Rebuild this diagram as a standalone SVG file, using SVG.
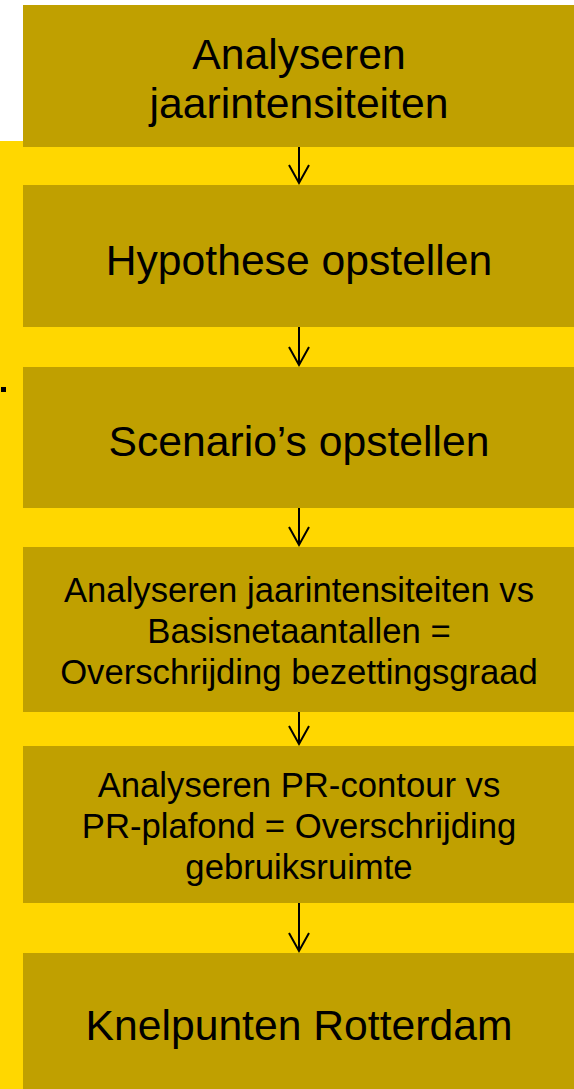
<svg xmlns="http://www.w3.org/2000/svg" width="574" height="1089" viewBox="0 0 574 1089">
<defs>
<style>
.box{fill:#C0A000}
.t{font-family:"Liberation Sans",Arial,sans-serif;fill:#000;text-anchor:middle}
.big{font-size:42.67px}
.small{font-size:34.67px}
.arr{stroke:#000;stroke-width:2;fill:none}
</style>
<marker id="ah" viewBox="0 0 20 20" refX="10" refY="18" markerWidth="20" markerHeight="20" markerUnits="userSpaceOnUse" orient="auto-start-reverse">
<path d="M0,0 L10,18 L20,0" fill="none" stroke="#000" stroke-width="2"/>
</marker>
</defs>
<rect x="0" y="0" width="574" height="1089" fill="#fff"/>
<rect x="0" y="141" width="574" height="948" fill="#FFD700"/>
<rect x="1" y="387" width="5" height="5" fill="#000"/>
<g id="connectors">
<line class="arr" x1="299" y1="147" x2="299" y2="183"/>
<path class="arr" d="M289,165 L299,183 L309,165"/>
<line class="arr" x1="299" y1="327" x2="299" y2="365"/>
<path class="arr" d="M289,347 L299,365 L309,347"/>
<line class="arr" x1="299" y1="508" x2="299" y2="545"/>
<path class="arr" d="M289,527 L299,545 L309,527"/>
<line class="arr" x1="299" y1="712" x2="299" y2="744"/>
<path class="arr" d="M289,726 L299,744 L309,726"/>
<line class="arr" x1="299" y1="903" x2="299" y2="951"/>
<path class="arr" d="M289,933 L299,951 L309,933"/>
</g>
<g id="n1"><rect class="box" x="23" y="5" width="551" height="142"/>
<text class="t big" x="299" y="69">Analyseren</text>
<text class="t big" x="299" y="118">jaarintensiteiten</text></g>
<g id="n2"><rect class="box" x="23" y="185" width="551" height="142"/>
<text class="t big" x="299" y="275">Hypothese opstellen</text></g>
<g id="n3"><rect class="box" x="23" y="367" width="551" height="141"/>
<text class="t big" x="299" y="456">Scenario’s opstellen</text></g>
<g id="n4"><rect class="box" x="23" y="547" width="551" height="165"/>
<text class="t small" x="299" y="602">Analyseren jaarintensiteiten vs</text>
<text class="t small" x="299" y="643">Basisnetaantallen =</text>
<text class="t small" x="299" y="684">Overschrijding bezettingsgraad</text></g>
<g id="n5"><rect class="box" x="23" y="746" width="551" height="157"/>
<text class="t small" x="299" y="797">Analyseren PR-contour vs</text>
<text class="t small" x="299" y="838">PR-plafond = Overschrijding</text>
<text class="t small" x="299" y="879">gebruiksruimte</text></g>
<g id="n6"><rect class="box" x="23" y="953" width="551" height="136"/>
<text class="t big" x="299" y="1040">Knelpunten Rotterdam</text></g>
</svg>
